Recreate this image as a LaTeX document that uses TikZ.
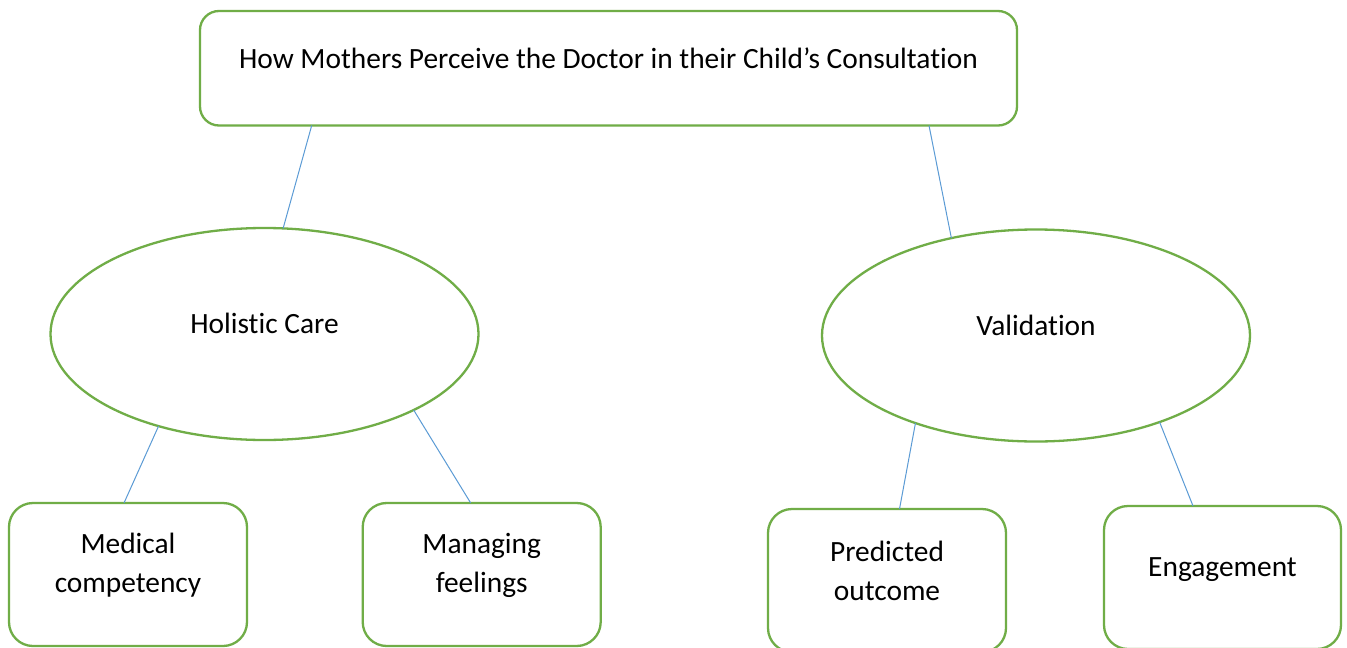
\documentclass[tikz,border=0pt]{standalone}
\usepackage{fontspec}
\setmainfont{Carlito}[Ligatures=NoCommon]
\usetikzlibrary{shapes.geometric,calc}
\definecolor{wgreen}{HTML}{70AD47}
\definecolor{wblue}{HTML}{5B9BD5}
\begin{document}
\begin{tikzpicture}[x=1pt,y=-1pt,
  shapebox/.style={rectangle, draw=wgreen, line width=2.3pt, rounded corners=#1, outer sep=0pt, inner sep=0pt},
  oval/.style={ellipse, draw=wgreen, line width=2.3pt, outer sep=0pt, inner sep=0pt, minimum width=428pt, minimum height=212pt},
  lbl/.style={font=\fontsize{29.4}{39}\selectfont, align=center, inner sep=0pt},
  link/.style={draw=wblue, line width=1pt}]
\useasboundingbox (0,0) rectangle (1347,648);
\clip (0,0) rectangle (1347,648);
\fill[white] (0,0) rectangle (1347,648);

% top box
\node[shapebox=19pt, minimum width=817pt, minimum height=114.5pt] (top) at (608.5,68.25) {};
\node[lbl] (toptxt) at ([yshift=10.5pt]top.center) {How Mothers Perceive the Doctor in their Child’s Consultation};

% ellipses
\node[oval] (hc) at (264.5,334) {};
\node[lbl] (hctxt) at ([yshift=10.5pt]hc.center) {Holistic Care};
\node[oval] (val) at (1036,335.5) {};
\node[lbl] (valtxt) at ([yshift=10.5pt]val.center) {Validation};

% bottom boxes
\node[shapebox=24pt, minimum width=238pt, minimum height=143pt] (med) at (128,574.5) {};
\node[lbl] (medtxt) at ([yshift=9pt]med.center) {Medical\\competency};
\node[shapebox=24pt, minimum width=238pt, minimum height=143pt] (man) at (481.7,574.5) {};
\node[lbl] (mantxt) at ([yshift=9pt]man.center) {Managing\\feelings};
\node[shapebox=24pt, minimum width=238pt, minimum height=143pt] (pre) at (887,580.5) {};
\node[lbl] (pretxt) at ([yshift=10pt]pre.center) {Predicted\\outcome};
\node[shapebox=24pt, minimum width=237pt, minimum height=143pt] (eng) at (1222.5,577.5) {};
\node[lbl] (engtxt) at ([yshift=8pt]eng.center) {Engagement};

% connectors
\draw[link] ([xshift=111.7pt]top.south west) -- (hc.80.1);
\draw[link] ([xshift=-88pt]top.south east) -- (val.131.1);
\draw[link] (hc.221.4) -- ([xshift=115pt]med.north west);
\draw[link] (hc.333.5) -- ([xshift=108pt]man.north west);
\draw[link] (val.216.2) -- ([xshift=131.5pt]pre.north west);
\draw[link] (val.325.8) -- ([xshift=89pt]eng.north west);
\end{tikzpicture}
\end{document}
